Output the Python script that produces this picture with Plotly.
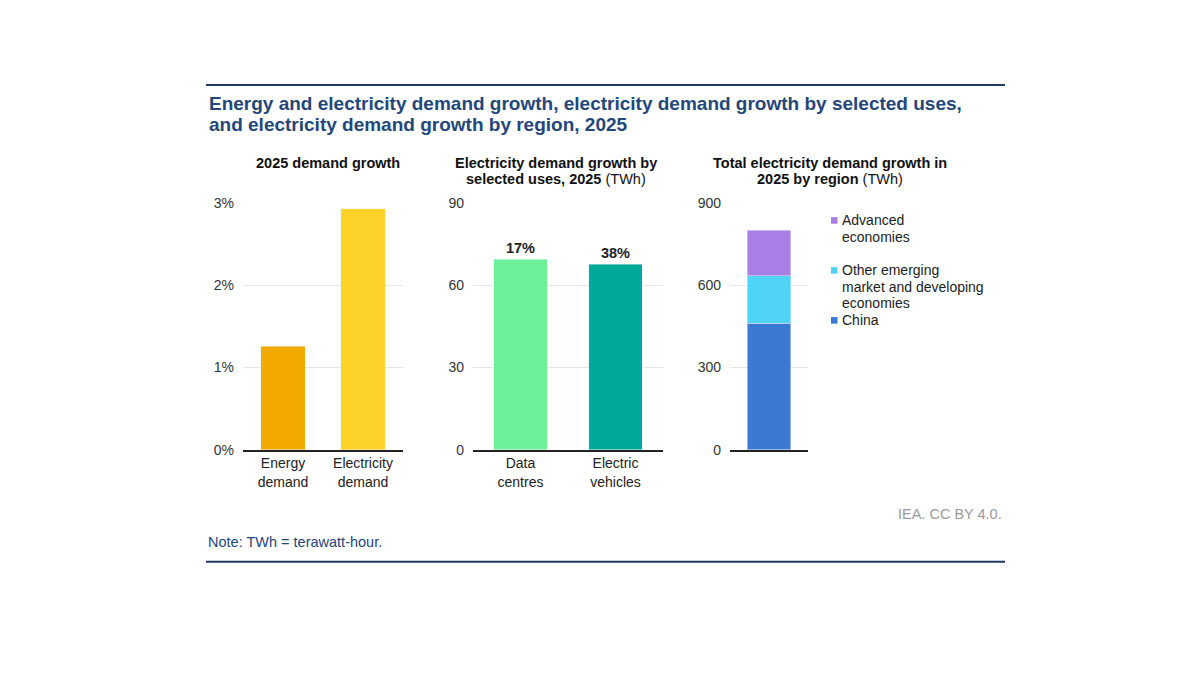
import plotly.graph_objects as go

# ---------------- data ----------------
p1_categories = ["Energy<br>demand", "Electricity<br>demand"]
p1_values = [1.26, 2.93]          # % growth
p1_colors = ["#F2A900", "#FDD229"]

p2_categories = ["Data<br>centres", "Electric<br>vehicles"]
p2_values = [69.4, 67.7]          # TWh
p2_labels = ["17%", "38%"]
p2_colors = ["#6CF098", "#00A99A"]

p3_category = ["2025"]
region_names = ["China", "Other emerging market and developing economies", "Advanced economies"]
region_legend_lines = [["China"], ["Other emerging", "market and developing", "economies"], ["Advanced", "economies"]]
region_values = [462, 173, 165]  # TWh
region_colors = ["#3B78D3", "#4FD3F6", "#A97FE6"]

p1_ticks = [0, 1, 2, 3]
p1_ticktext = ["0%", "1%", "2%", "3%"]
p2_ticks = [0, 30, 60, 90]
p3_ticks = [0, 300, 600, 900]

title_lines = ["Energy and electricity demand growth, electricity demand growth by selected uses,",
               "and electricity demand growth by region, 2025"]

W, H = 1200, 674
FONT = "Liberation Sans, Arial, sans-serif"

def px(x):
    return x / W

def py(t):
    # convert target screen pixel to paper coordinate (compensating page scaling)
    f = (t - 6.94) / 0.9769
    return 1 - f / H

fig = go.Figure()

fig.add_trace(go.Bar(x=p1_categories, y=p1_values, marker_color=p1_colors,
                     xaxis="x", yaxis="y", showlegend=False, hoverinfo="skip"))
fig.add_trace(go.Bar(x=p2_categories, y=p2_values, marker_color=p2_colors,
                     text=[f"<b>{t}</b>" for t in p2_labels], textposition="outside",
                     textfont=dict(size=14.5, color="#222", family=FONT), cliponaxis=False,
                     xaxis="x2", yaxis="y2", showlegend=False, hoverinfo="skip"))
for name, val, col in zip(region_names, region_values, region_colors):
    fig.add_trace(go.Bar(x=p3_category, y=[val], name=name, marker_color=col,
                         xaxis="x3", yaxis="y3", showlegend=False, hoverinfo="skip"))

ydom = [py(449), py(202)]
common_x = dict(showline=True, linecolor="#222", linewidth=1.5, showgrid=False,
                ticks="", tickfont=dict(size=14, color="#222", family=FONT),
                fixedrange=True, zeroline=False)
common_y = dict(showgrid=True, gridcolor="#E6E6E6", gridwidth=1, zeroline=False,
                showline=False, ticks="", tickfont=dict(size=14, color="#333", family=FONT),
                ticklabelstandoff=8, fixedrange=True)

fig.update_layout(
    width=W, height=H,
    margin=dict(l=0, r=0, t=0, b=0),
    paper_bgcolor="white", plot_bgcolor="white",
    barmode="stack", bargap=0.44,
    font=dict(family=FONT),
    xaxis=dict(domain=[px(243), px(403)], anchor="y", **common_x),
    yaxis=dict(domain=ydom, anchor="x", range=[0, 3], tickvals=p1_ticks, ticktext=p1_ticktext, **common_y),
    xaxis2=dict(domain=[px(473), px(663)], anchor="y2", **common_x),
    yaxis2=dict(domain=ydom, anchor="x2", range=[0, 90], tickvals=p2_ticks, **common_y),
    xaxis3=dict(domain=[px(730), px(808)], anchor="y3", showticklabels=False, **common_x),
    yaxis3=dict(domain=ydom, anchor="x3", range=[0, 900], tickvals=p3_ticks, **common_y),
)

anns = []
# main title
for i, ln in enumerate(title_lines):
    anns.append(dict(text=f"<b>{ln}</b>", x=px(207), y=py(103 + i * 21), xref="paper", yref="paper",
                     xanchor="left", yanchor="middle", align="left", showarrow=False,
                     font=dict(size=19, color="#24477A", family=FONT)))
# subplot titles (one annotation per line)
sub_titles = [
    (["<b>2025 demand growth</b>"], 328),
    (["<b>Electricity demand growth by</b>", "<b>selected uses, 2025</b> (TWh)"], 556),
    (["<b>Total electricity demand growth in</b>", "<b>2025 by region</b> (TWh)"], 830),
]
for lines, x in sub_titles:
    for i, t in enumerate(lines):
        anns.append(dict(text=t, x=px(x), y=py(162 + i * 16.5), xref="paper", yref="paper",
                         xanchor="center", yanchor="middle", showarrow=False, align="center",
                         font=dict(size=14.5, color="#111", family=FONT)))

# legend (custom) for region panel
legend_start_y = {"Advanced economies": 219.5,
                  "Other emerging market and developing economies": 269.5,
                  "China": 319.5}
shapes = []
for name, lines, col in zip(region_names, region_legend_lines, region_colors):
    y0 = legend_start_y[name]
    shapes.append(dict(type="rect", xref="paper", yref="paper",
                       x0=px(831), x1=px(837.5), y0=py(y0 + 3.3), y1=py(y0 - 3.3),
                       fillcolor=col, line=dict(width=0)))
    for i, ln in enumerate(lines):
        anns.append(dict(text=ln, x=px(840), y=py(y0 + i * 16.5), xref="paper", yref="paper",
                         xanchor="left", yanchor="middle", showarrow=False,
                         font=dict(size=14, color="#222", family=FONT)))

# footer
anns.append(dict(text="IEA. CC BY 4.0.", x=px(1004), y=py(513), xref="paper", yref="paper",
                 xanchor="right", yanchor="middle", showarrow=False,
                 font=dict(size=14.5, color="#9A9A9A", family=FONT)))
anns.append(dict(text="Note: TWh = terawatt-hour.", x=px(206), y=py(541.5), xref="paper", yref="paper",
                 xanchor="left", yanchor="middle", showarrow=False,
                 font=dict(size=14.5, color="#24477A", family=FONT)))

# rules
for yy in (84, 561):
    shapes.append(dict(type="line", xref="paper", yref="paper", x0=px(206), x1=px(1005),
                       y0=py(yy), y1=py(yy), line=dict(color="#1F3864", width=2)))

fig.update_layout(annotations=anns, shapes=shapes)
fig.write_html("out.html")
